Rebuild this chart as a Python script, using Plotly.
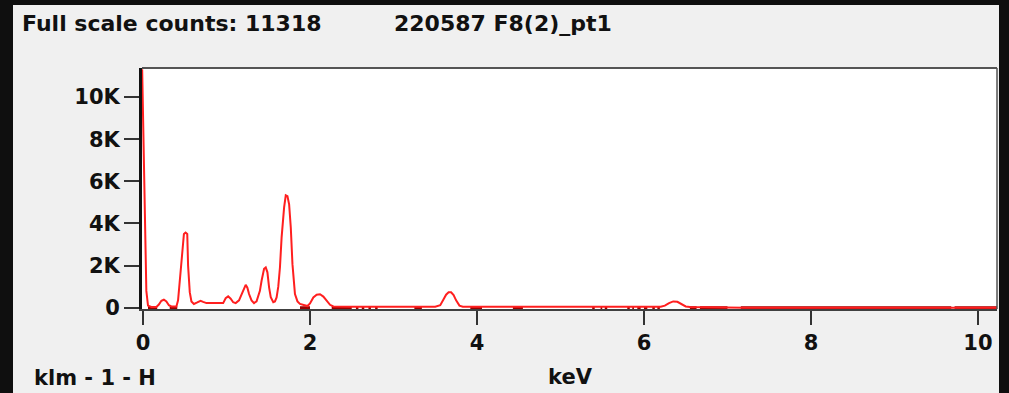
import plotly.graph_objects as go

# ---- data ----
kev = [-0.01, 0.00, 0.02, 0.04, 0.06, 0.10, 0.16, 0.19, 0.22, 0.25, 0.28, 0.31, 0.34, 0.40,
       0.42, 0.44, 0.47, 0.49, 0.51, 0.53, 0.54, 0.56, 0.58, 0.61, 0.65, 0.69, 0.72, 0.76,
       0.96, 0.99, 1.02, 1.05, 1.08, 1.11, 1.15, 1.18, 1.20, 1.23, 1.25, 1.27, 1.30, 1.33,
       1.36, 1.40, 1.42, 1.45, 1.47, 1.49, 1.51, 1.53, 1.56, 1.58, 1.60, 1.62, 1.64, 1.66,
       1.69, 1.71, 1.73, 1.75, 1.77, 1.79, 1.82, 1.85, 1.88, 1.97, 2.00, 2.04, 2.08, 2.12,
       2.16, 2.20, 2.24, 2.28, 2.50, 3.50, 3.56, 3.60, 3.63, 3.66, 3.69, 3.72, 3.75, 3.79,
       3.83, 6.20, 6.25, 6.30, 6.35, 6.40, 6.45, 6.50, 6.55, 7.10, 7.20, 10.25]
counts = [11318, 8860, 3730, 800, 100, 40, 40, 150, 330, 380, 300, 120, 60, 60,
          350, 1360, 2640, 3500, 3570, 3500, 2000, 740, 300, 180, 250, 330, 280, 220,
          220, 450, 540, 430, 260, 220, 350, 600, 800, 1090, 950, 650, 350, 220,
          300, 800, 1280, 1850, 1910, 1680, 970, 500, 260, 300, 490, 1000, 1910, 3340,
          4760, 5340, 5300, 4910, 3810, 2070, 650, 300, 180, 80, 200, 490, 620, 640,
          530, 330, 140, 60, 50, 50, 120, 400, 620, 730, 730, 600, 350, 100,
          50, 50, 100, 220, 300, 280, 160, 60, 40, 30, 0, 0]

# channels with zero counts (start keV, end keV), drawn dark red on the baseline
zero_start = [0.06, 0.32, 1.88, 2.26, 2.55, 2.62, 2.70, 2.78, 3.25, 3.92, 4.43, 5.38, 5.48,
              5.53, 5.80, 5.86, 5.92, 6.00, 6.10, 6.16, 6.55, 6.67, 7.16, 9.72]
zero_end = [0.17, 0.41, 2.00, 2.50, 2.58, 2.65, 2.73, 2.81, 3.34, 4.06, 4.55, 5.41, 5.50,
            5.56, 5.83, 5.88, 5.96, 6.04, 6.13, 6.19, 6.63, 7.00, 9.68, 10.24]

x_ticks = [0, 2, 4, 6, 8, 10]
y_ticks = [0, 2000, 4000, 6000, 8000, 10000]
y_tick_text = ["0", "2K", "4K", "6K", "8K", "10K"]

full_scale = 11318
title_left = "Full scale counts: 11318"
title_right = "220587 F8(2)_pt1"
x_label = "keV"
corner_label = "klm - 1 - H"

# ---- geometry (pixels) ----
W, H = 1009, 393
L, R, T, B = 142, 12, 68, 84
PW, PH = W - L - R, H - T - B


def px(x):
    return (x - L) / PW


def py(y):
    return (H - B - y) / PH


zx, zy = [], []
for s, e in zip(zero_start, zero_end):
    zx += [s, e, None]
    zy += [0, 0, None]

fig = go.Figure()
fig.add_trace(go.Scatter(x=zx, y=zy, mode="lines",
                         line=dict(color="#9a0000", width=3), hoverinfo="skip"))
fig.add_trace(go.Scatter(x=kev, y=counts, mode="lines",
                         line=dict(color="#ff1f1f", width=2)))

font_family = "DejaVu Sans"
fig.update_layout(
    width=W, height=H,
    margin=dict(l=L, r=R, t=T, b=B, pad=0),
    paper_bgcolor="#f0f0f0",
    plot_bgcolor="#ffffff",
    showlegend=False,
    font=dict(family=font_family, size=21, color="#111111", weight="bold"),
    xaxis=dict(range=[-0.012, 10.228], tickvals=x_ticks, ticks="outside", ticklen=14,
               tickwidth=2, tickcolor="#333333", showline=True, linecolor="#404040",
               linewidth=2, showgrid=False, zeroline=False, layer="below traces",
               tickfont=dict(family=font_family, size=21, weight="bold")),
    yaxis=dict(range=[-60, 11380], tickvals=y_ticks, ticktext=y_tick_text, ticks="outside",
               ticklen=15, tickwidth=2, tickcolor="#333333", showline=True,
               linecolor="#111111", linewidth=3, showgrid=False, zeroline=False,
               layer="below traces",
               tickfont=dict(family=font_family, size=21, weight="bold")),
)

# outer black frame
for x0, x1, y0, y1 in [(0, 13, 0, H), (999, W, 0, H), (0, W, 0, 5)]:
    fig.add_shape(type="rect", xref="paper", yref="paper",
                  x0=px(x0), x1=px(x1), y0=py(y1), y1=py(y0),
                  fillcolor="#0f0f0f", line=dict(width=0), layer="above")
# top and right border of plot
fig.add_shape(type="line", xref="paper", yref="paper", x0=0, x1=1, y0=1, y1=1,
              line=dict(color="#555555", width=2))
fig.add_shape(type="line", xref="paper", yref="paper", x0=1, x1=1, y0=0, y1=1,
              line=dict(color="#555555", width=1.5))


def ann(text, x, y, anchor="left", size=21):
    fig.add_annotation(text=text, xref="paper", yref="paper", x=px(x), y=py(y),
                       xanchor=anchor, yanchor="middle", showarrow=False,
                       font=dict(family=font_family, size=size, color="#111111",
                                 weight="bold"))


ann(title_left, 20, 23, size=22)
ann(title_right, 392, 23, size=22)
ann(x_label, 570, 377, "center")
ann(corner_label, 32, 378)

fig.write_html("out.html")
